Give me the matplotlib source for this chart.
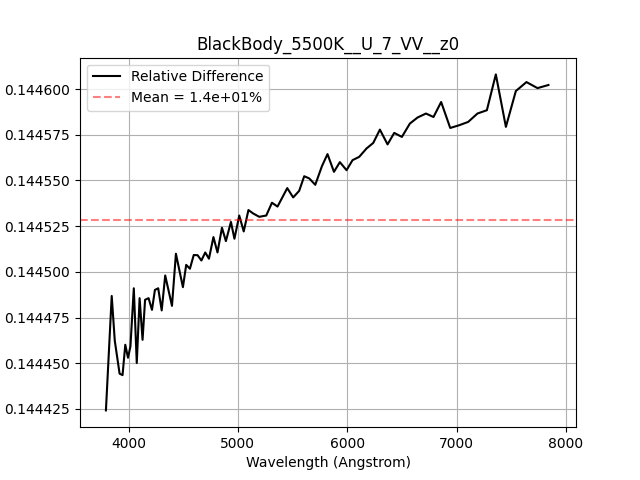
import numpy as np
import matplotlib
matplotlib.use("Agg")
import matplotlib.pyplot as plt
from matplotlib.ticker import MultipleLocator

title = "BlackBody_5500K__U_7_VV__z0"

# wavelengths (Angstrom)
wavelength = [
    3793, 3846, 3874, 3918, 3945, 3970, 3995, 4017, 4048, 4075,
    4101, 4128, 4151, 4183, 4214, 4241, 4271, 4303, 4335, 4397,
    4433, 4497, 4527, 4561, 4596, 4631, 4666, 4701, 4735, 4776,
    4813, 4854, 4890, 4936, 4968, 5012, 5053, 5096, 5140, 5195,
    5259, 5311, 5362, 5451, 5505, 5560, 5606, 5652, 5707, 5768,
    5819, 5878, 5932, 5993, 6048, 6109, 6176, 6237, 6298, 6368,
    6429, 6499, 6572, 6642, 6719, 6788, 6858, 6941, 7023, 7105,
    7190, 7276, 7358, 7450, 7541, 7638, 7739, 7839,
]

# relative difference, in units of 1e-6
rel_diff_e6 = [
    144424.2, 144486.8, 144462.3, 144444.3, 144443.5, 144460.1, 144453.0, 144459.2, 144491.0, 144450.1,
    144485.6, 144462.8, 144484.7, 144485.6, 144479.2, 144490.1, 144491.0, 144478.9, 144498.0, 144481.4,
    144509.9, 144491.6, 144503.8, 144501.7, 144509.2, 144509.1, 144506.2, 144510.6, 144507.2, 144519.0,
    144510.6, 144524.1, 144516.8, 144527.3, 144518.1, 144530.8, 144522.1, 144533.8, 144531.9, 144530.1,
    144530.8, 144537.8, 144535.7, 144545.8, 144540.7, 144544.3, 144552.3, 144551.1, 144547.6, 144557.8,
    144564.4, 144554.7, 144560.0, 144555.6, 144561.1, 144562.9, 144567.5, 144570.5, 144577.8, 144569.7,
    144576.0, 144573.8, 144581.1, 144584.4, 144586.6, 144584.7, 144592.9, 144578.7, 144580.2, 144582.0,
    144586.6, 144588.4, 144608.0, 144579.3, 144598.9, 144603.8, 144600.5, 144602.2,
]

# mean line level
mean_rel_diff = 0.1445283

wl = np.array(wavelength)
diff = np.array(rel_diff_e6) * 1e-6

fig, ax = plt.subplots(figsize=(6.4, 4.8), dpi=100)
ax.plot(wl, diff, color="black", label="Relative Difference")
ax.axhline(mean_rel_diff, color="red", linestyle="--", alpha=0.5,
           label=f"Mean = {mean_rel_diff*100:.1e}%")
ax.set_title(title)
ax.set_xlabel("Wavelength (Angstrom)")
ax.set_xlim(3556, 8091)
ax.xaxis.set_major_locator(MultipleLocator(1000))
ax.ticklabel_format(axis="y", useOffset=False)
ax.grid(True)
ax.legend(loc="upper left")

fig.savefig("out.png", dpi=100)
